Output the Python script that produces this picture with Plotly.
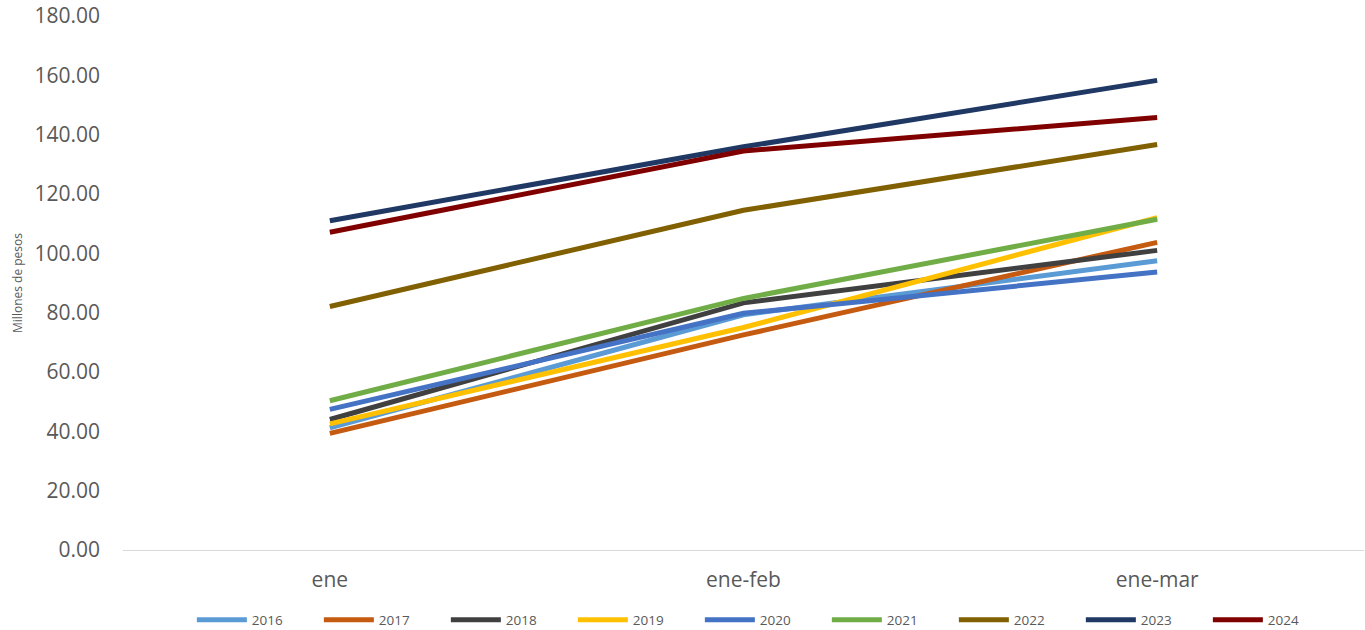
import plotly.graph_objects as go

categories = ["ene", "ene-feb", "ene-mar"]
years = ["2016", "2017", "2018", "2019", "2020", "2021", "2022", "2023", "2024"]
v2016 = [41.2, 79.3, 97.5]
v2017 = [39.3, 72.5, 103.7]
v2018 = [44.0, 83.3, 101.0]
v2019 = [42.5, 75.0, 112.0]
v2020 = [47.4, 79.8, 93.7]
v2021 = [50.3, 84.8, 111.5]
v2022 = [82.1, 114.5, 136.7]
v2023 = [111.0, 135.9, 158.3]
v2024 = [107.1, 134.5, 145.8]
series = [v2016, v2017, v2018, v2019, v2020, v2021, v2022, v2023, v2024]
colors = ["#5B9BD5", "#C55A11", "#404040", "#FFC000", "#4472C4",
          "#70AD47", "#806000", "#1F3864", "#800000"]
yticks = [0, 20, 40, 60, 80, 100, 120, 140, 160, 180]

FONT = "'Open Sans', 'Noto Sans', sans-serif"

fig = go.Figure()
for name, vals, col in zip(years, series, colors):
    fig.add_trace(go.Scatter(
        x=categories, y=vals, name=name, mode="lines",
        line=dict(color=col, width=5),
    ))

fig.update_layout(
    width=1365, height=630,
    margin=dict(l=123, r=1, t=16, b=80, autoexpand=False),
    paper_bgcolor="white", plot_bgcolor="white",
    font=dict(family=FONT, color="#595959"),
    showlegend=True,
    legend=dict(
        orientation="h", x=0.516, xanchor="center", y=-0.131, yanchor="middle",
        font=dict(size=13.5, color="#595959"),
        entrywidth=62, itemwidth=50,
        bgcolor="rgba(0,0,0,0)",
    ),
    xaxis=dict(
        type="category", range=[-0.5, 2.5],
        showgrid=False, showline=True, linecolor="#D9D9D9", linewidth=1,
        ticks="", tickfont=dict(size=21, color="#595959"),
        ticklabelstandoff=11, zeroline=False, automargin=False,
    ),
    yaxis=dict(
        range=[0, 180], tickvals=yticks,
        ticktext=[f"{v:.2f}" for v in yticks],
        showgrid=False, showline=False, zeroline=False, ticks="",
        tickfont=dict(size=21, color="#595959"),
        ticklabelstandoff=22, ticklabeloverflow="allow",
        title=dict(text="Millones de pesos", font=dict(size=12, color="#595959"), standoff=9),
        automargin=False,
    ),
)

fig.write_html("out.html", config={"displayModeBar": False},
               post_script="document.body.style.margin='0';")
